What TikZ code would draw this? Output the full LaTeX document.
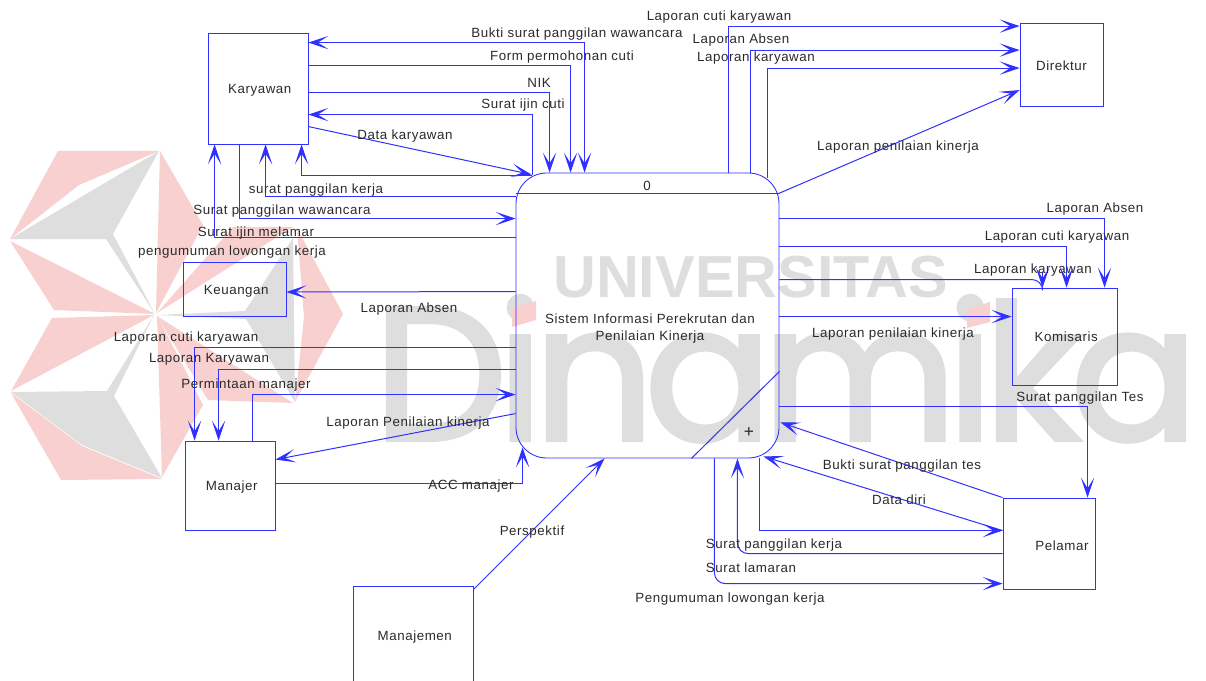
\documentclass[tikz,border=0pt]{standalone}
\usepackage{fontspec}
\setmainfont[LetterSpace=4.3]{Liberation Sans}
\newfontfamily\wmuni{Liberation Sans}
\newfontfamily\wmdin[FakeBold=2.2,LetterSpace=-5.4]{Poppins}
\usetikzlibrary{arrows.meta}
\definecolor{linecol}{HTML}{3030FF}
\definecolor{wmred}{HTML}{F9D0D0}
\definecolor{wmgray}{HTML}{DEDEDE}
\definecolor{txtcol}{HTML}{2A2A2A}
\newcommand{\entlabel}[2][2.6pt]{\kern#1\raisebox{-1.4pt}[7.2pt][2.1pt]{#2}}
\tikzset{
  flow/.style={draw=linecol,line width=0.75pt},
  arr/.style={flow,-{Stealth[length=15pt,width=10pt,inset=8pt]}},
  arrboth/.style={flow,{Stealth[length=15pt,width=10pt,inset=8pt]}-{Stealth[length=15pt,width=10pt,inset=8pt]}},
  entity/.style={draw=linecol,line width=0.65pt,rectangle,inner sep=0pt,font=\fontsize{10}{12}\selectfont,text=txtcol},
  lbl/.style={inner sep=0pt,yshift=-1.2pt,font=\fontsize{10}{12}\selectfont,text=txtcol,align=center},
  wr/.style={fill=wmred,draw=none},
  wg/.style={fill=wmgray,draw=none}
}
\begin{document}
\begin{tikzpicture}[x=0.75pt,y=-0.75pt]
\useasboundingbox (0,0) rectangle (1206,681);
\clip (0,0) rectangle (1206,681);
% watermark
\fill[wr] (58,151)--(159,151)--(79,185)--(10,239)--cycle;
\fill[wg] (159,151)--(10,239)--(106,239)--(155,314)--(113,234)--cycle;
\fill[wr] (160,151)--(203,225)--(156,313)--cycle;
\fill[wr] (10,241)--(155,314)--(54,310)--cycle;
\fill[wr] (52,318)--(154,315)--(11,391)--cycle;
\fill[wg] (11,392)--(107,391)--(154,315)--(114,396)--(162,478)--(82,445)--cycle;
\fill[wr] (11,393)--(82,446)--(162,479)--(61,480)--cycle;
\fill[wr] (157,315)--(203,405)--(162,477)--cycle;
\fill[wr] (157,313)--(233,227)--(293,227)--cycle;
\fill[wg] (293,238)--(295,402)--(246,319)--(157,315)--(245,311)--cycle;
\fill[wr] (297,228)--(343,314)--(295,402)--(304,317)--cycle;
\fill[wr] (157,316)--(293,403)--(208,400)--cycle;
\node[anchor=base west,inner sep=0pt,text=wmgray] (wmtop) at (553,297) {\fontsize{44.5}{46}\selectfont\wmuni\bfseries UNIVERSITAS};
\node[anchor=base west,inner sep=0pt,text=wmgray] (wmbig) at (373,440) {\fontsize{142}{142}\selectfont\wmdin Dinamika};
\fill[wr] (512,308)--(536,301)--(536,320)--(512,327)--cycle;
\fill[wr] (967,309)--(990,302)--(990,322)--(967,328)--cycle;
% entities
\node[entity,minimum width=75pt,minimum height=83.25pt] (kar) at (258,88.5) {\entlabel{Karyawan}};
\node[entity,minimum width=77.25pt,minimum height=40.5pt] (keu) at (234.5,289) {\entlabel{Keuangan}};
\node[entity,minimum width=67.5pt,minimum height=66.75pt] (man) at (230,485.5) {\entlabel{Manajer}};
\node[entity,minimum width=90pt,minimum height=73.5pt] (mgt) at (413,635) {\entlabel{Manajemen}};
\node[entity,minimum width=62.25pt,minimum height=62.25pt] (dir) at (1061.5,65) {\entlabel[0pt]{Direktur}};
\node[entity,minimum width=78.75pt,minimum height=72.75pt] (kom) at (1064.5,336.5) {\entlabel{Komisaris}};
\node[entity,minimum width=69pt,minimum height=68.25pt] (pel) at (1049,543.5) {};
\node[lbl] (pellabel) at (1062,544) {Pelamar};
\node[entity,minimum width=197.25pt,minimum height=213.75pt,rounded corners=23pt] (proc) at (647.5,315.5) {};
\node[lbl] (proclabel) at (650,327) {Sistem Informasi Perekrutan dan\\[1.2pt]Penilaian Kinerja};
\node[lbl] (procnum) at (647,184) {0};
\node[lbl] (procplus) at (749,431) {\fontsize{13}{13}\selectfont +};
\draw[flow] ([shift={(0,21)}]proc.north west) -- ([shift={(0,21)}]proc.north east);
\draw[flow] ([shift={(-88,0)}]proc.south east) -- ([shift={(0,-87)}]proc.south east);
% Karyawan
\draw[arrboth] ([shift={(0,10)}]kar.north east) -| ([shift={(69,0)}]proc.north west);
\draw[arr] ([shift={(0,33)}]kar.north east) -| ([shift={(55,0)}]proc.north west);
\draw[arr] ([shift={(0,60)}]kar.north east) -| ([shift={(34,0)}]proc.north west);
\draw[arr] ([shift={(17,2)}]proc.north west) |- ([shift={(0,82)}]kar.north east);
\draw[arr] ([shift={(0,94)}]kar.north east) -- ([shift={(16,2)}]proc.north west);
\draw[arr] ([shift={(16,3)}]proc.north west) -| ([shift={(94,0)}]kar.south west);
\draw[arr] ([shift={(0,24)}]proc.north west) -| ([shift={(58,0)}]kar.south west);
\draw[arr] ([shift={(32,0)}]kar.south west) |- ([shift={(0,46)}]proc.north west);
\draw[arr] ([shift={(0,65)}]proc.north west) -| ([shift={(7,0)}]kar.south west);
% Keuangan, Manajer, Manajemen
\draw[arr] ([shift={(0,119)}]proc.north west) -- ([shift={(0,3)}]keu.east);
\draw[arr] ([shift={(0,175)}]proc.north west) -| ([shift={(10,0)}]man.north west);
\draw[arr] ([shift={(0,197)}]proc.north west) -| ([shift={(34,0)}]man.north west);
\draw[arr] ([shift={(68,0)}]man.north west) |- ([shift={(0,222)}]proc.north west);
\draw[arr] ([shift={(0,241)}]proc.north west) -- ([shift={(0,19)}]man.north east);
\draw[arr] ([shift={(0,43)}]man.north east) -| ([shift={(7,-11)}]proc.south west);
\draw[arr] ([shift={(0,4)}]mgt.north east) -- ([shift={(89,0)}]proc.south west);
% Direktur
\draw[arr] ([shift={(213,0)}]proc.north west) |- ([shift={(0,3)}]dir.north west);
\draw[arr] ([shift={(235,0)}]proc.north west) |- ([shift={(0,27)}]dir.north west);
\draw[arr] ([shift={(252,5)}]proc.north west) |- ([shift={(0,45)}]dir.north west);
\draw[arr] ([shift={(-1,21)}]proc.north east) -- ([shift={(0,67)}]dir.north west);
% Komisaris
\draw[arr] ([shift={(0,46)}]proc.north east) -| ([shift={(93,0)}]kom.north west);
\draw[arr] ([shift={(0,74)}]proc.north east) -| ([shift={(55,0)}]kom.north west);
\draw[flow,rounded corners=8pt] ([shift={(0,107)}]proc.north east) -| ([shift={(31,0)}]kom.north west);
\draw[arr] ([shift={(31,-16)}]kom.north west) -- ([shift={(31,0)}]kom.north west);
\draw[arr] ([shift={(0,144)}]proc.north east) -- ([shift={(0,29)}]kom.north west);
% Pelamar
\draw[arr] ([shift={(0,234)}]proc.north east) -| ([shift={(85,0)}]pel.north west);
\draw[arr] (pel.north west) -- ([shift={(1,-36)}]proc.south east);
\draw[arr] ([shift={(0,33)}]pel.north west) -- ([shift={(-16,-2)}]proc.south east);
\draw[arr] ([shift={(-20,0)}]proc.south east) |- ([shift={(0,33)}]pel.north west);
\draw[arr,rounded corners=8pt] ([shift={(0,56)}]pel.north west) -| ([shift={(-42,0)}]proc.south east);
\draw[arr,rounded corners=8pt] ([shift={(-65,0)}]proc.south east) |- ([shift={(0,86)}]pel.north west);
% labels
\node[lbl] (t01) at (577,32) {Bukti surat panggilan wawancara};
\node[lbl] (t02) at (562,55) {Form permohonan cuti};
\node[lbl] (t03) at (539,81) {NIK};
\node[lbl] (t04) at (523,103) {Surat ijin cuti};
\node[lbl] (t05) at (405,134) {Data karyawan};
\node[lbl] (t06) at (316,188) {surat panggilan kerja};
\node[lbl] (t07) at (282,209) {Surat panggilan wawancara};
\node[lbl] (t08) at (256,231) {Surat ijin melamar};
\node[lbl] (t09) at (232,250) {pengumuman lowongan kerja};
\node[lbl] (t10) at (409,307) {Laporan Absen};
\node[lbl] (t11) at (186,336) {Laporan cuti karyawan};
\node[lbl] (t12) at (209,358) {Laporan Karyawan};
\node[lbl] (t13) at (246,383) {Permintaan manajer};
\node[lbl] (t14) at (408,421) {Laporan Penilaian kinerja};
\node[lbl] (t15) at (471,484) {ACC manajer};
\node[lbl] (t16) at (532,530) {Perspektif};
\node[lbl] (t17) at (730,597) {Pengumuman lowongan kerja};
\node[lbl] (t18) at (751,566) {Surat lamaran};
\node[lbl] (t19) at (774,543) {Surat panggilan kerja};
\node[lbl] (t20) at (899,498) {Data diri};
\node[lbl] (t21) at (902,464) {Bukti surat panggilan tes};
\node[lbl] (t22) at (1080,396) {Surat panggilan Tes};
\node[lbl] (t23) at (893,332) {Laporan penilaian kinerja};
\node[lbl] (t24) at (1033,268) {Laporan karyawan};
\node[lbl] (t25) at (1057,235) {Laporan cuti karyawan};
\node[lbl] (t26) at (1095,207) {Laporan Absen};
\node[lbl] (t27) at (898,145) {Laporan penilaian kinerja};
\node[lbl] (t28) at (756,56) {Laporan karyawan};
\node[lbl] (t29) at (741,38) {Laporan Absen};
\node[lbl] (t30) at (719,15) {Laporan cuti karyawan};
\end{tikzpicture}
\end{document}
